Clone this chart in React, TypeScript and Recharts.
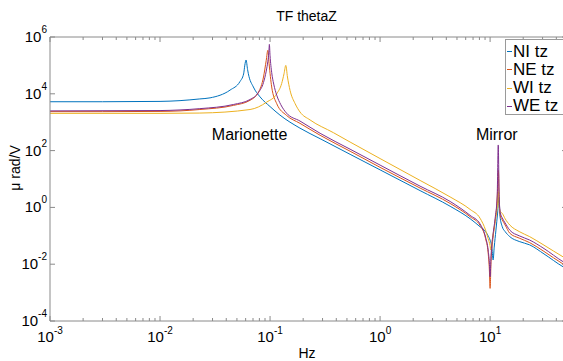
import React from 'react';
import { LineChart, Line, XAxis, YAxis, Legend, ReferenceDot } from 'recharts';

// ---------- data ----------
const seriesNames = ['NI tz', 'NE tz', 'WI tz', 'WE tz'];
const seriesColors = ['#0072BD', '#D95319', '#EDB120', '#7E2F8E'];

const freqNI = [0.001, 0.003, 0.01, 0.0152, 0.023, 0.0285, 0.0433, 0.0533, 0.0575, 0.059, 0.0605, 0.0625, 0.0635, 0.0705, 0.0811, 0.1, 0.123, 0.187, 0.285, 0.534, 1, 2.31, 4.33, 6.58, 8.1, 9.1, 9.6, 10.0, 10.4, 10.65, 10.9, 11.3, 11.7, 12.05, 12.3, 12.9, 13.7, 15.1, 18.4, 22.9, 30.9, 46, 50];
const magNI = [5.25e3, 5.25e3, 5.4e3, 5.75e3, 6.6e3, 7.2e3, 1.35e4, 2.7e4, 5.0e4, 1.02e5, 1.55e5, 7.1e4, 5.1e4, 1.74e4, 7.8e3, 3.55e3, 1.78e3, 617, 263, 74, 21, 3.9, 1.1, 0.4, 0.209, 0.141, 0.1, 0.0708, 0.0355, 0.0141, 0.0398, 0.158, 0.631, 2.24, 0.5, 0.209, 0.141, 0.0933, 0.063, 0.0479, 0.023, 0.00813, 0.00676];

const freqNE = [0.001, 0.003, 0.01, 0.0152, 0.023, 0.0464, 0.0658, 0.0786, 0.0872, 0.0923, 0.0955, 0.098, 0.1035, 0.115, 0.141, 0.187, 0.285, 0.534, 1, 2.31, 4.33, 6.58, 8.1, 9.1, 9.6, 9.85, 10.0, 10.2, 10.6, 11.1, 11.6, 11.9, 12.1, 12.4, 12.9, 13.7, 15.1, 18.4, 22.9, 30.9, 46, 50];
const magNE = [2.35e3, 2.35e3, 2.4e3, 2.5e3, 2.8e3, 3.9e3, 5.9e3, 1.15e4, 3.9e4, 1.5e5, 3.4e5, 1.15e5, 1.74e4, 4.5e3, 1.74e3, 912, 347, 95, 25.7, 4.8, 1.38, 0.47, 0.234, 0.0794, 0.0251, 0.0063, 0.00141, 0.0126, 0.0794, 0.316, 2.0, 20, 1.58, 0.5, 0.363, 0.24, 0.123, 0.083, 0.0575, 0.0282, 0.0102, 0.0085];

const freqWI = [0.001, 0.01, 0.023, 0.0658, 0.0933, 0.115, 0.1275, 0.134, 0.139, 0.144, 0.152, 0.169, 0.187, 0.231, 0.377, 0.534, 1, 2.31, 4.33, 6.58, 8.1, 9.1, 9.6, 10.0, 10.15, 10.5, 11.1, 11.6, 11.9, 12.1, 12.4, 12.9, 13.7, 15.1, 18.4, 22.9, 30.9, 46, 50];
const magWI = [2.05e3, 2.05e3, 2.1e3, 2.8e3, 5.1e3, 1.0e4, 2.3e4, 5.1e4, 1.0e5, 3.9e4, 1.32e4, 4.5e3, 2.3e3, 1.2e3, 427, 200, 52.5, 8.9, 2.34, 0.85, 0.417, 0.158, 0.0794, 0.0447, 0.0316, 0.0794, 0.316, 1.0, 3.55, 1.0, 0.708, 0.617, 0.398, 0.24, 0.141, 0.0933, 0.0468, 0.0182, 0.0151];

const freqWE = [0.001, 0.01, 0.0152, 0.023, 0.0464, 0.0658, 0.0786, 0.0872, 0.0923, 0.0955, 0.0975, 0.0986, 0.1, 0.1035, 0.108, 0.115, 0.125, 0.141, 0.187, 0.285, 0.534, 1, 2.31, 4.33, 6.58, 8.1, 9.1, 9.6, 9.85, 10.0, 10.2, 10.6, 11.1, 11.6, 11.86, 12.1, 12.4, 12.9, 13.7, 15.1, 18.4, 22.9, 30.9, 46, 50];
const magWE = [2.5e3, 2.57e3, 2.7e3, 3.0e3, 4.2e3, 6.3e3, 1.12e4, 2.5e4, 6.3e4, 1.4e5, 2.8e5, 5.5e5, 2.2e5, 5.6e4, 2.2e4, 8.9e3, 4.2e3, 2.1e3, 1.1e3, 407, 112, 30.9, 5.6, 1.62, 0.525, 0.263, 0.0891, 0.0316, 0.0112, 0.00363, 0.02, 0.1, 0.398, 2.51, 158, 2.0, 0.631, 0.427, 0.282, 0.158, 0.1, 0.0708, 0.0355, 0.0123, 0.0102];

const xDecades = [0.001, 0.01, 0.1, 1, 10];
const xMinorSteps = [2, 3, 4, 5, 6, 7, 8, 9];
const yTicks = [1e-4, 1e-2, 1, 1e2, 1e4, 1e6];
const xDomain = [0.001, 50];
const yDomain = [1e-4, 1e6];

const annotations = [
  { text: 'Marionette', f: 0.0652, v: 375 },
  { text: 'Mirror', f: 11.5, v: 375 },
];

// ---------- build ----------
const toPoints = (f: number[], m: number[]) => f.map((x, i) => ({ f: x, v: m[i] }));
const seriesData = [
  toPoints(freqNI, magNI),
  toPoints(freqNE, magNE),
  toPoints(freqWI, magWI),
  toPoints(freqWE, magWE),
];
const xTicks = [
  ...xDecades,
  ...xDecades.flatMap((d) => xMinorSteps.map((s) => d * s)).filter((v) => v <= xDomain[1]),
];

const axisColor = '#8a8a8a';
const FONT = '"Liberation Sans", Arial, Helvetica, sans-serif';

const isDecade = (v: number) => {
  const e = Math.round(Math.log10(v));
  return Math.abs(v - Math.pow(10, e)) < 1e-9 * Math.pow(10, e);
};
const expOf = (v: number) => Math.round(Math.log10(v));

const XTickBottom = (props: any) => {
  const { x, y, payload } = props;
  const v = payload.value;
  const major = isDecade(v);
  return (
    <g>
      <line x1={x} x2={x} y1={y} y2={y - (major ? 5 : 3)} stroke={axisColor} strokeWidth={1} />
      {major && (
        <text x={x} y={y + 21} textAnchor="middle" fontSize={15} fill="#000" fontFamily={FONT}>
          <tspan>10</tspan>
          <tspan dy={-8} fontSize={10}>{expOf(v)}</tspan>
        </text>
      )}
    </g>
  );
};

const XTickTop = (props: any) => {
  const { x, y, payload } = props;
  const major = isDecade(payload.value);
  return <line x1={x} x2={x} y1={y} y2={y + (major ? 5 : 3)} stroke={axisColor} strokeWidth={1} />;
};

const YTickLeft = (props: any) => {
  const { x, y, payload } = props;
  return (
    <g>
      <line x1={x} x2={x + 5} y1={y} y2={y} stroke={axisColor} strokeWidth={1} />
      <text x={x - 3} y={y + 5} textAnchor="end" fontSize={15} fill="#000" fontFamily={FONT}>
        <tspan>10</tspan>
        <tspan dy={-9} fontSize={10}>{expOf(payload.value)}</tspan>
      </text>
    </g>
  );
};

const YTickRight = (props: any) => {
  const { x, y } = props;
  return <line x1={x} x2={x - 5} y1={y} y2={y} stroke={axisColor} strokeWidth={1} />;
};

const renderLegend = () => (
  <div
    style={{
      width: 80,
      height: 76,
      boxSizing: 'border-box',
      border: '1px solid #9a9a9a',
      background: '#fff',
      position: 'relative',
      fontFamily: FONT,
    }}
  >
    {seriesNames.map((name, i) => (
      <div
        key={name}
        style={{
          position: 'absolute',
          left: 1,
          top: 2.5 + i * 18.33,
          height: 18,
          lineHeight: '18px',
          display: 'flex',
          alignItems: 'center',
          fontSize: 17,
          color: '#000',
          whiteSpace: 'nowrap',
        }}
      >
        <span style={{ display: 'inline-block', width: 5, borderTop: `1px solid ${seriesColors[i]}`, marginRight: 1 }} />
        <span>{name}</span>
      </div>
    ))}
  </div>
);

export default function App() {
  return (
    <div
      style={{
        position: 'absolute',
        left: 0,
        top: 0,
        width: 563,
        height: 361,
        overflow: 'hidden',
        background: '#fff',
        fontFamily: FONT,
      }}
    >
      <LineChart width={580} height={361} margin={{ top: 0, right: 0, bottom: 0, left: 0 }}>
        <XAxis
          xAxisId={0}
          dataKey="f"
          type="number"
          scale="log"
          domain={xDomain}
          allowDataOverflow
          ticks={xTicks}
          interval={0}
          tickSize={0}
          tickMargin={0}
          tickLine={false}
          axisLine={{ stroke: axisColor }}
          tick={<XTickBottom />}
          height={40}
          orientation="bottom"
        />
        <XAxis
          xAxisId="top"
          dataKey="f"
          type="number"
          scale="log"
          domain={xDomain}
          allowDataOverflow
          ticks={xTicks}
          interval={0}
          tickSize={0}
          tickMargin={0}
          tickLine={false}
          axisLine={{ stroke: axisColor }}
          tick={<XTickTop />}
          height={37}
          orientation="top"
        />
        <YAxis
          yAxisId={0}
          type="number"
          scale="log"
          domain={yDomain}
          allowDataOverflow
          ticks={yTicks}
          interval={0}
          tickSize={0}
          tickMargin={0}
          tickLine={false}
          axisLine={{ stroke: axisColor }}
          tick={<YTickLeft />}
          width={50}
          orientation="left"
        />
        <YAxis
          yAxisId="right"
          type="number"
          scale="log"
          domain={yDomain}
          allowDataOverflow
          ticks={yTicks}
          interval={0}
          tickSize={0}
          tickMargin={0}
          tickLine={false}
          axisLine={{ stroke: axisColor }}
          tick={<YTickRight />}
          width={13}
          orientation="right"
        />
        {seriesData.map((d, i) => (
          <Line
            key={seriesNames[i]}
            data={d}
            dataKey="v"
            name={seriesNames[i]}
            stroke={seriesColors[i]}
            strokeWidth={1}
            dot={false}
            activeDot={false}
            type="monotone"
            isAnimationActive={false}
            xAxisId={0}
            yAxisId={0}
          />
        ))}
        {annotations.map((a) => (
          <ReferenceDot
            key={a.text}
            x={a.f}
            y={a.v}
            r={0}
            fill="none"
            stroke="none"
            xAxisId={0}
            yAxisId={0}
            ifOverflow="visible"
            label={{ value: a.text, position: 'center', fontSize: 16, fill: '#000', fontFamily: FONT }}
          />
        ))}
        <Legend
          content={renderLegend}
          layout="horizontal"
          align="center"
          verticalAlign="middle"
          wrapperStyle={{ position: 'absolute', left: 505, top: 39, width: 80, height: 76 }}
        />
      </LineChart>
      <svg
        width={563}
        height={361}
        style={{ position: 'absolute', left: 0, top: 0, pointerEvents: 'none' }}
      >
        <text x={306.5} y={21} textAnchor="middle" fontSize={14} fill="#000" fontFamily={FONT}>
          TF thetaZ
        </text>
        <text x={307} y={358} textAnchor="middle" fontSize={14} fill="#000" fontFamily={FONT}>
          Hz
        </text>
        <text
          transform="translate(19.5,168) rotate(-90)"
          textAnchor="middle"
          fontSize={14}
          fill="#000"
          fontFamily={FONT}
        >
          μ rad/V
        </text>
      </svg>
    </div>
  );
}
